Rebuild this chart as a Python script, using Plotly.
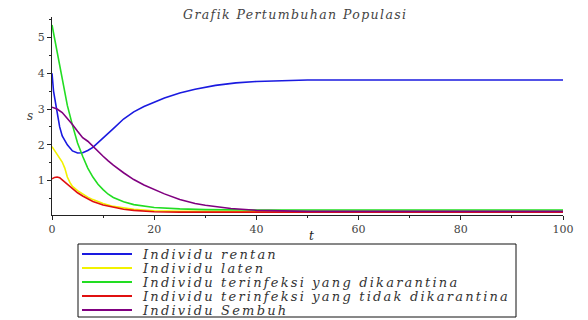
import plotly.graph_objects as go

# ---- data ----
t_rentan = [0, 0.3, 0.9, 1.5, 2, 3, 4, 5, 6, 7, 8, 10, 12, 14, 16, 18, 20, 22, 25, 28, 32, 36, 40, 45, 50, 60, 70, 80, 90, 100]
rentan = [4.0, 3.5, 3.0, 2.5, 2.25, 2.0, 1.83, 1.77, 1.78, 1.84, 1.93, 2.18, 2.45, 2.72, 2.92, 3.07, 3.2, 3.31, 3.45, 3.55, 3.66, 3.73, 3.77, 3.8, 3.81, 3.81, 3.81, 3.81, 3.81, 3.81]

t_laten = [0, 0.5, 1, 1.5, 2, 2.5, 3, 3.5, 4, 5, 6, 7, 8, 10, 12, 14, 16, 18, 20, 25, 30, 40, 60, 80, 100]
laten = [1.95, 1.85, 1.75, 1.62, 1.52, 1.35, 1.1, 0.95, 0.84, 0.72, 0.62, 0.54, 0.47, 0.36, 0.28, 0.23, 0.2, 0.18, 0.16, 0.14, 0.14, 0.14, 0.14, 0.14, 0.14]

t_karantina = [0, 1, 2, 3, 4, 5, 6, 7, 8, 9, 10, 11, 12, 14, 16, 18, 20, 25, 30, 40, 60, 80, 100]
karantina = [5.35, 4.6, 3.85, 3.1, 2.55, 2.05, 1.68, 1.35, 1.1, 0.9, 0.75, 0.62, 0.53, 0.41, 0.33, 0.28, 0.25, 0.21, 0.19, 0.18, 0.18, 0.18, 0.18]

t_tidak = [0, 0.5, 1, 1.5, 2, 3, 4, 5, 6, 7, 8, 10, 12, 14, 16, 18, 20, 25, 30, 40, 60, 80, 100]
tidak = [1.05, 1.09, 1.1, 1.08, 1.02, 0.9, 0.77, 0.66, 0.57, 0.49, 0.42, 0.32, 0.25, 0.2, 0.17, 0.15, 0.13, 0.12, 0.12, 0.12, 0.12, 0.12, 0.12]

t_sembuh = [0, 1, 2, 3, 4, 5, 6, 7, 8, 10, 11, 12, 14, 16, 18, 20, 22, 25, 28, 30, 35, 40, 45, 50, 60, 80, 100]
sembuh = [3.05, 3.0, 2.9, 2.75, 2.57, 2.38, 2.2, 2.1, 1.95, 1.68, 1.55, 1.43, 1.22, 1.03, 0.88, 0.75, 0.63, 0.47, 0.36, 0.31, 0.22, 0.17, 0.15, 0.14, 0.14, 0.14, 0.14]

names = ["Individu rentan", "Individu laten", "Individu terinfeksi yang dikarantina",
         "Individu terinfeksi yang tidak dikarantina", "Individu Sembuh"]
colors = ["#1a1ae0", "#f2f200", "#22dd22", "#e01010", "#800080"]
series = [(t_rentan, rentan), (t_laten, laten), (t_karantina, karantina),
          (t_tidak, tidak), (t_sembuh, sembuh)]

x_ticks = [0, 20, 40, 60, 80, 100]
y_ticks = [1, 2, 3, 4, 5]

fig = go.Figure()
for (tx, ty), nm, col in zip(series, names, colors):
    fig.add_trace(go.Scatter(x=tx, y=ty, mode="lines", name=nm,
                             line=dict(color=col, width=1.6), showlegend=False))

# the page body adds an 8px margin, so the figure is 8px smaller and margins shifted
OFF = 8
W, H = 588 - OFF, 320 - OFF
PL, PR, PT, PB = 52, 563, 17, 215   # plot box in screen pixels
L, T = PL - OFF, PT - OFF
R = W - (PR - OFF)
B = H - (PB - OFF)
pw, ph = PR - PL, PB - PT

def px(x):
    return (x - PL) / pw

def py(y):
    return (PB - y) / ph

tickfont = dict(family="DejaVu Serif", size=11, color="#444444")
fig.update_layout(
    width=W, height=H,
    margin=dict(l=L, r=R, t=T, b=B, autoexpand=False),
    paper_bgcolor="white", plot_bgcolor="white",
    xaxis=dict(range=[0, 100], tickvals=x_ticks, showgrid=False, zeroline=False,
               showline=True, linecolor="#222222", linewidth=1, automargin=False,
               ticks="outside", ticklen=4, tickcolor="#222222", tickfont=tickfont,
               minor=dict(dtick=10, ticks="outside", ticklen=2, tickcolor="#222222")),
    yaxis=dict(range=[0.04, 5.57], tickvals=y_ticks, showgrid=False, zeroline=False,
               showline=True, linecolor="#222222", linewidth=1, automargin=False,
               ticks="outside", ticklen=4, tickcolor="#222222", tickfont=tickfont,
               minor=dict(tickvals=[0.5, 1.5, 2.5, 3.5, 4.5, 5.5], ticks="outside",
                          ticklen=2, tickcolor="#222222")),
)

def spaced(s, sp):
    return '<span style="letter-spacing:%.1fpx">%s</span>' % (sp, s)

annots = []
shapes = []
serif_it = dict(family="DejaVu Serif", size=12.5, color="#444444", style="italic")
annots.append(dict(text=spaced("Grafik Pertumbuhan Populasi", 1.4), xref="paper", yref="paper",
                   x=px(181), y=py(15), showarrow=False, font=serif_it,
                   xanchor="left", yanchor="middle"))
annots.append(dict(text="s", xref="paper", yref="paper", x=px(30), y=py(116),
                   showarrow=False, font=dict(family="DejaVu Serif", size=12, color="#444444", style="italic"),
                   xanchor="center", yanchor="middle"))
annots.append(dict(text="t", xref="paper", yref="paper", x=px(311), y=py(236),
                   showarrow=False, font=dict(family="DejaVu Serif", size=12, color="#222222", style="italic"),
                   xanchor="center", yanchor="middle"))

# legend box
shapes.append(dict(type="rect", xref="paper", yref="paper",
                   x0=px(78), x1=px(516), y0=py(317), y1=py(244),
                   line=dict(color="#111111", width=1), fillcolor="white"))
rows = [254, 268, 282, 296, 310]
legfont = dict(family="DejaVu Serif", size=13, color="#333333", style="italic")
for yy, nm, col in zip(rows, names, colors):
    shapes.append(dict(type="line", xref="paper", yref="paper",
                       x0=px(82), x1=px(132), y0=py(yy), y1=py(yy),
                       line=dict(color=col, width=2)))
    annots.append(dict(text=spaced(nm, 2.2), xref="paper", yref="paper", x=px(140), y=py(yy),
                       showarrow=False, font=legfont, xanchor="left", yanchor="middle"))

fig.update_layout(annotations=annots, shapes=shapes)
fig.write_html("out.html")
